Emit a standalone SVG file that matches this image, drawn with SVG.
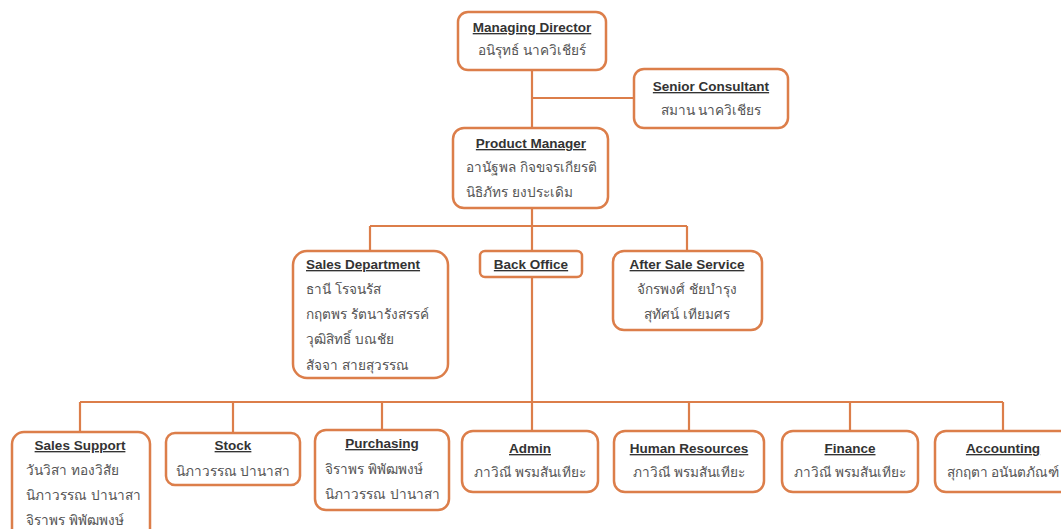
<svg xmlns="http://www.w3.org/2000/svg" width="1061" height="529" viewBox="0 0 1061 529">
<style>
.box{fill:#fff;stroke:#DC7E4A;stroke-width:2.5}
.ln{fill:none;stroke:#DC7E4A;stroke-width:2.2}
.t{font-family:"Liberation Sans","DejaVu Sans",sans-serif;font-size:13.5px;font-weight:bold;fill:#333;text-decoration:underline}
.th{font-family:"Noto Sans","DejaVu Sans",sans-serif;font-size:13.6px;fill:#555}
.c{text-anchor:middle}
</style>
<rect width="1061" height="529" fill="#fff"/>
<g id="connectors">
<path class="ln" d="M532 70V128M532 98H633M532 208V226M370 226H687M370 226V251M532 226V251M687 226V251M532 277V402M80 402H1003M80 402V432M233 402V433M382 402V430M532 402V431M689 402V431M850 402V431M1003 402V431"/>
</g>
<g id="managing-director">
<rect class="box" x="458" y="12" width="148" height="58" rx="10"/>
<text class="t c" x="532" y="32">Managing Director</text>
<text class="th c" x="532" y="55">อนิรุทธ์ นาควิเชียร์</text>
</g>
<g id="senior-consultant">
<rect class="box" x="634" y="69" width="154" height="59" rx="10"/>
<text class="t c" x="711" y="91">Senior Consultant</text>
<text class="th c" x="711" y="115">สมาน นาควิเชียร</text>
</g>
<g id="product-manager">
<rect class="box" x="453" y="128" width="155" height="80" rx="11"/>
<text class="t c" x="531" y="148">Product Manager</text>
<text class="th" x="466" y="172">อานัฐพล กิจขจรเกียรติ</text>
<text class="th" x="466" y="197">นิธิภัทร ยงประเดิม</text>
</g>
<g id="sales-department">
<rect class="box" x="293" y="251" width="155" height="127" rx="14"/>
<text class="t" x="306" y="269">Sales Department</text>
<text class="th" x="306" y="294">ธานี โรจนรัส</text>
<text class="th" x="306" y="319">กฤตพร รัตนารังสรรค์</text>
<text class="th" x="306" y="344">วุฒิสิทธิ์ บณชัย</text>
<text class="th" x="306" y="370">สัจจา สายสุวรรณ</text>
</g>
<g id="back-office">
<rect class="box" x="480" y="251" width="102" height="26" rx="5"/>
<text class="t c" x="531" y="269">Back Office</text>
</g>
<g id="after-sale-service">
<rect class="box" x="613" y="251" width="149" height="79" rx="11"/>
<text class="t c" x="687" y="269">After Sale Service</text>
<text class="th c" x="687" y="294">จักรพงศ์ ชัยบำรุง</text>
<text class="th c" x="687" y="319">สุทัศน์ เทียมศร</text>
</g>
<g id="sales-support">
<rect class="box" x="12" y="432" width="138" height="110" rx="12"/>
<text class="t c" x="80" y="450">Sales Support</text>
<text class="th" x="26" y="475">วันวิสา ทองวิสัย</text>
<text class="th" x="26" y="500">นิภาวรรณ ปานาสา</text>
<text class="th" x="26" y="525">จิราพร พิพัฒพงษ์</text>
</g>
<g id="stock">
<rect class="box" x="166" y="433" width="134" height="52" rx="9"/>
<text class="t c" x="233" y="450">Stock</text>
<text class="th c" x="233" y="476">นิภาวรรณ ปานาสา</text>
</g>
<g id="purchasing">
<rect class="box" x="315" y="430" width="134" height="80" rx="11"/>
<text class="t c" x="382" y="448">Purchasing</text>
<text class="th" x="325" y="474">จิราพร พิพัฒพงษ์</text>
<text class="th" x="325" y="499">นิภาวรรณ ปานาสา</text>
</g>
<g id="admin">
<rect class="box" x="462" y="431" width="136" height="61" rx="11"/>
<text class="t c" x="530" y="453">Admin</text>
<text class="th c" x="530" y="477">ภาวิณี พรมสันเทียะ</text>
</g>
<g id="human-resources">
<rect class="box" x="614" y="431" width="150" height="61" rx="11"/>
<text class="t c" x="689" y="453">Human Resources</text>
<text class="th c" x="689" y="477">ภาวิณี พรมสันเทียะ</text>
</g>
<g id="finance">
<rect class="box" x="782" y="431" width="136" height="61" rx="11"/>
<text class="t c" x="850" y="453">Finance</text>
<text class="th c" x="850" y="477">ภาวิณี พรมสันเทียะ</text>
</g>
<g id="accounting">
<rect class="box" x="935" y="431" width="140" height="61" rx="11"/>
<text class="t c" x="1003" y="453">Accounting</text>
<text class="th c" x="1003" y="477">สุกฤตา อนันตภัณฑ์</text>
</g>
</svg>
